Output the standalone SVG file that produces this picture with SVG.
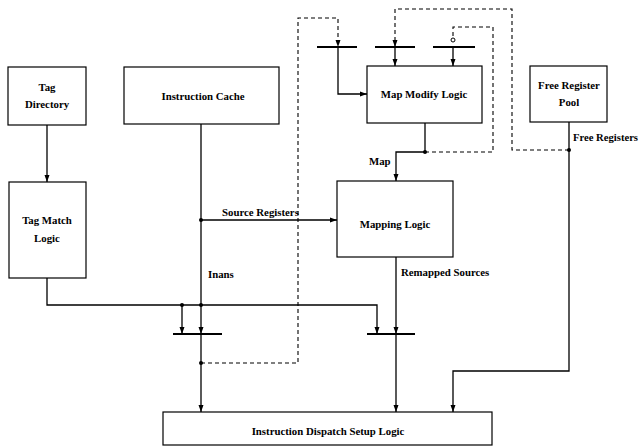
<svg xmlns="http://www.w3.org/2000/svg" width="639" height="448" viewBox="0 0 639 448">
<style>
  .box { fill: #fff; stroke: #000; stroke-width: 1.2; }
  .t { font-family: "Liberation Serif", "Times New Roman", serif; font-weight: bold; font-size: 10.8px; fill: #000; }
  .c { text-anchor: middle; }
  .w { fill: none; stroke: #000; stroke-width: 1.3; }
  .d { fill: none; stroke: #000; stroke-width: 1.1; stroke-dasharray: 4 3; }
  .bar { stroke: #000; stroke-width: 1.8; }
  .dot { fill: #000; }
</style>
<defs>
  <marker id="ah" markerUnits="userSpaceOnUse" markerWidth="7" markerHeight="7" viewBox="0 0 7 7" refX="7" refY="3.5" orient="auto">
    <path d="M0,1 L7,3.5 L0,6 Z" fill="#000"/>
  </marker>
</defs>
<rect width="639" height="448" fill="#fff"/>

<g id="tag-directory">
  <rect class="box" x="8" y="67" width="78" height="58"/>
  <text class="t c" x="47" y="91">Tag</text>
  <text class="t c" x="47" y="108">Directory</text>
</g>
<g id="tag-match-logic">
  <rect class="box" x="9" y="182" width="77" height="96"/>
  <text class="t c" x="47" y="224">Tag Match</text>
  <text class="t c" x="47" y="242">Logic</text>
</g>
<g id="instruction-cache">
  <rect class="box" x="124" y="67" width="155" height="57"/>
  <text class="t c" x="203" y="100">Instruction Cache</text>
</g>
<g id="map-modify-logic">
  <rect class="box" x="367" y="66" width="115" height="57"/>
  <text class="t c" x="424" y="98">Map Modify Logic</text>
</g>
<g id="free-register-pool">
  <rect class="box" x="530" y="66" width="77" height="56"/>
  <text class="t c" x="569" y="89">Free Register</text>
  <text class="t c" x="569" y="106">Pool</text>
</g>
<g id="mapping-logic">
  <rect class="box" x="337" y="181" width="116" height="76"/>
  <text class="t c" x="395" y="228">Mapping Logic</text>
</g>
<g id="dispatch">
  <rect class="box" x="163" y="412" width="329" height="33"/>
  <text class="t c" x="328" y="435">Instruction Dispatch Setup Logic</text>
</g>

<g id="connectors">
  <line class="bar" x1="317" y1="47" x2="357" y2="47"/>
  <line class="bar" x1="375" y1="47" x2="415" y2="47"/>
  <line class="bar" x1="433" y1="47" x2="475" y2="47"/>
  <line class="bar" x1="173" y1="334" x2="222" y2="334"/>
  <line class="bar" x1="367" y1="334" x2="415" y2="334"/>

  <path class="w" d="M47,125 V182" marker-end="url(#ah)"/>
  <path class="w" d="M201,124 V334" marker-end="url(#ah)"/>
  <path class="w" d="M201,334 V412" marker-end="url(#ah)"/>
  <path class="w" d="M201,220 H337" marker-end="url(#ah)"/>
  <path class="w" d="M47,278 V305 H377 V334" marker-end="url(#ah)"/>
  <path class="w" d="M182,305 V334" marker-end="url(#ah)"/>
  <path class="w" d="M396,257 V334" marker-end="url(#ah)"/>
  <path class="w" d="M396,334 V412" marker-end="url(#ah)"/>
  <path class="w" d="M569,122 V371 H453 V412" marker-end="url(#ah)"/>
  <path class="w" d="M425,123 V152 H396 V181" marker-end="url(#ah)"/>
  <path class="w" d="M338,47 V94 H367" marker-end="url(#ah)"/>
  <path class="w" d="M395,47 V66" marker-end="url(#ah)"/>
  <path class="w" d="M453,47 V66" marker-end="url(#ah)"/>

  <path class="d" d="M201,363 H298 V18 H338 V47" marker-end="url(#ah)"/>
  <path class="d" d="M569,150 H512 V9 H395 V47" marker-end="url(#ah)"/>
  <path class="d" d="M425,152 H493 V27 H453 V38"/>
  <circle cx="453" cy="40" r="2" fill="#fff" stroke="#000" stroke-width="1"/>

  <circle class="dot" cx="201" cy="220" r="2"/>
  <circle class="dot" cx="182" cy="305" r="2"/>
  <circle class="dot" cx="201" cy="305" r="2"/>
  <circle class="dot" cx="201" cy="363" r="2"/>
  <circle class="dot" cx="425" cy="152" r="2"/>
  <circle class="dot" cx="569" cy="150" r="2"/>

  <text class="t" x="222" y="216">Source Registers</text>
  <text class="t" x="208" y="278">Inans</text>
  <text class="t" x="401" y="276">Remapped Sources</text>
  <text class="t" x="369" y="165">Map</text>
  <text class="t" x="573" y="141" textLength="65" lengthAdjust="spacingAndGlyphs">Free Registers</text>
</g>
</svg>
